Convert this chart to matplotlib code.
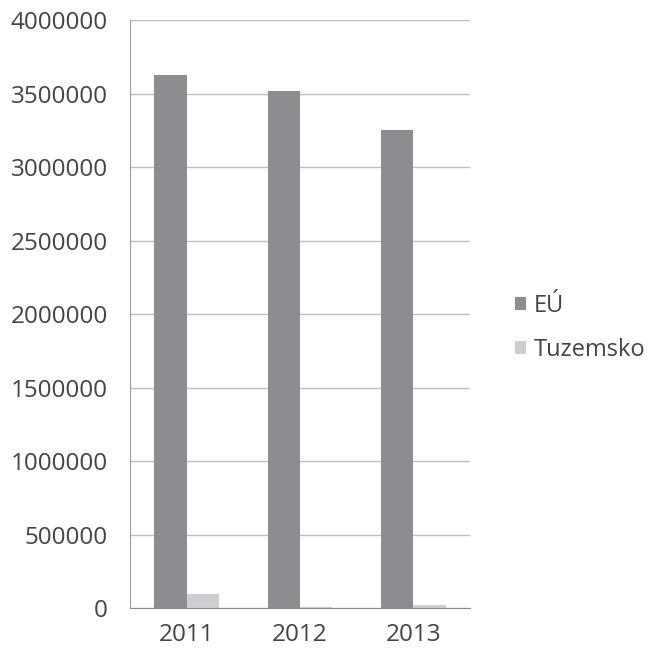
import matplotlib
matplotlib.use('Agg')
import matplotlib.pyplot as plt
import numpy as np

years = ['2011', '2012', '2013']
eu = [3630000, 3520000, 3250000]
tuzemsko = [95000, 5000, 20000]
series_names = ['EÚ', 'Tuzemsko']

plt.rcParams['font.family'] = ['Open Sans', 'DejaVu Sans']

fig = plt.figure(figsize=(6.5, 6.52), dpi=100)
ax = fig.add_axes([0.2, 0.0675, 0.523, 0.9015])

x = np.arange(len(years))
w = 1 / 3.5
ax.bar(x - w / 2, eu, w, color='#8e8c91', label=series_names[0], zorder=2)
ax.bar(x + w / 2, tuzemsko, w, color='#cfcdd2', label=series_names[1], zorder=2)

ax.set_xlim(-0.5, 2.5)
ax.set_ylim(0, 4000000)
ax.set_yticks(np.arange(0, 4000001, 500000))
ax.set_yticklabels([str(v) for v in range(0, 4000001, 500000)])
ax.set_xticks(x)
ax.set_xticklabels(years)
ax.grid(axis='y', color='#bdbdbd', linewidth=1, zorder=0)
for s in ['top', 'right']:
  ax.spines[s].set_visible(False)
ax.spines['left'].set_color('#9a9a9a')
ax.spines['bottom'].set_color('#8a8a8a')
ax.tick_params(length=0, labelsize=17.5, colors='#444444')
ax.tick_params(axis='y', pad=16)
ax.tick_params(axis='x', pad=11)

fig.legend(loc='center left', bbox_to_anchor=(0.76, 0.497), frameon=False,
           fontsize=17, handlelength=0.45, handleheight=0.45, handletextpad=0.35,
           labelspacing=0.85, labelcolor='#444444')

fig.savefig('out.png', dpi=100)
